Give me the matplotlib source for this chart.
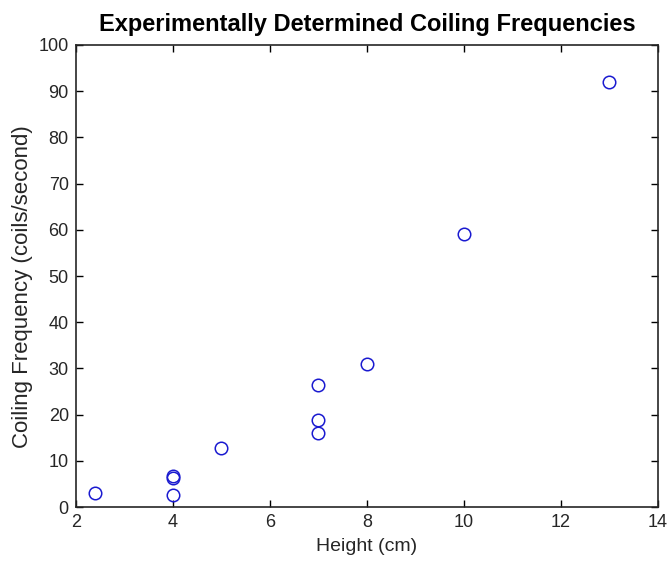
import numpy as np
import matplotlib
matplotlib.use("Agg")
import matplotlib.pyplot as plt

plt.rcParams['font.family'] = ['Liberation Sans', 'DejaVu Sans']

height_cm = [2.4, 4, 4, 4, 5, 7, 7, 7, 8, 10, 13]
freq = [3.0, 2.7, 6.2, 6.8, 12.7, 16.0, 18.8, 26.5, 31.0, 59.0, 92.0]

fig = plt.figure(figsize=(6.7, 5.61), dpi=100)
ax = fig.add_axes([0.113, 0.096, 0.869, 0.824])

ax.plot(height_cm, freq, 'o', mfc='none', mec='#1a1ad0', ms=9, mew=1.1)

ax.set_xlim(2, 14)
ax.set_ylim(0, 100)
ax.set_xticks(np.arange(2, 15, 2))
ax.set_yticks(np.arange(0, 101, 10))
ax.tick_params(direction='in', top=True, right=True, labelsize=13, length=5,
               width=1, pad=5, labelcolor='#262626')
for s in ax.spines.values():
    s.set_linewidth(1.2)
    s.set_color('#262626')

ax.set_xlabel('Height (cm)', fontsize=14, labelpad=5, color='#262626')
ax.set_ylabel('Coiling Frequency (coils/second)', fontsize=16, color='#262626')
ax.yaxis.set_label_coords(-0.073, 0.476)
ax.set_title('Experimentally Determined Coiling Frequencies', fontsize=17,
             fontweight='bold', pad=10)

fig.savefig('out.png', dpi=100)
